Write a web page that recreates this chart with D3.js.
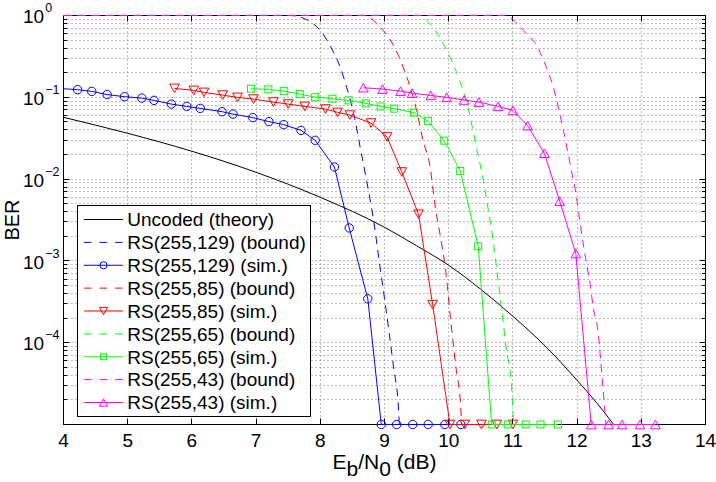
<!DOCTYPE html>
<html><head><meta charset="utf-8">
<script src="https://cdn.jsdelivr.net/npm/d3@7"></script>
<style>
body{margin:0;background:#fff}
svg{display:block}
text{font-family:"Liberation Sans",Arial,Helvetica,sans-serif;fill:#000}
</style>
</head><body>
<svg id="chart" width="716" height="482"></svg>
<script>
// ---------------- data ----------------
const uncodedX   = [4.0, 5.0, 6.0, 7.0, 8.0, 9.0, 9.5, 10.0, 10.5, 11.0, 11.5, 12.0, 12.3, 12.57];
const uncodedBER = [0.0569, 0.0363, 0.0219, 0.01211, 0.00599, 0.002578, 0.001531, 0.000884, 0.000449, 0.0002104, 9.16e-5, 3.47e-5, 1.86e-5, 1e-5];

const boundX129   = [4.0, 7.53, 7.79, 8.00, 8.15, 8.31, 8.41, 8.52, 8.62, 8.72, 8.83, 8.93, 9.01, 9.14, 9.22, 9.23];
const boundBER129 = [1, 1, 0.886, 0.656, 0.430, 0.234, 0.133, 0.0631, 0.0247, 0.00967, 0.00314, 0.000845, 0.000305, 5.08e-5, 1.5e-5, 1e-5];
const simX129   = [3.97, 4.22, 4.44, 4.68, 4.95, 5.22, 5.41, 5.68, 5.92, 6.13, 6.47, 6.64, 6.95, 7.20, 7.43, 7.70, 7.92, 8.22, 8.45, 8.74, 8.95, 9.19, 9.44, 9.68, 9.94, 10.19];
const simBER129 = [0.1277, 0.124, 0.118, 0.108, 0.1017, 0.0977, 0.0917, 0.0826, 0.0774, 0.0732, 0.0667, 0.0623, 0.0564, 0.0504, 0.0463, 0.0394, 0.0298, 0.01406, 0.00253, 0.000344, 1e-5, 1e-5, 1e-5, 1e-5, 1e-5, 1e-5];

const boundX85   = [4.0, 8.67, 8.83, 8.98, 9.14, 9.29, 9.40, 9.50, 9.60, 9.71, 9.79, 9.89, 9.97, 10.01, 10.11, 10.19, 10.20];
const boundBER85 = [1, 1, 0.869, 0.656, 0.430, 0.234, 0.133, 0.0692, 0.0298, 0.0141, 0.00456, 0.00163, 0.000581, 0.000274, 5.2e-5, 1.5e-5, 1e-5];
const simX85   = [5.73, 6.03, 6.19, 6.48, 6.71, 6.96, 7.27, 7.50, 7.76, 8.08, 8.27, 8.46, 8.79, 9.04, 9.27, 9.53, 9.75, 10.02, 10.25, 10.51, 10.75, 11.0];
const simBER85 = [0.1285, 0.1214, 0.1148, 0.1064, 0.0997, 0.0951, 0.0874, 0.0826, 0.0774, 0.0718, 0.0654, 0.0606, 0.0484, 0.0327, 0.01221, 0.00372, 0.000292, 1e-5, 1e-5, 1e-5, 1e-5, 1e-5];

const boundX65   = [4.0, 9.55, 9.71, 9.86, 10.02, 10.17, 10.30, 10.43, 10.54, 10.61, 10.69, 10.77, 10.82, 10.90, 10.98, 11.01];
const boundBER65 = [1, 1, 0.792, 0.543, 0.310, 0.161, 0.0759, 0.0247, 0.00967, 0.00456, 0.00179, 0.000581, 0.000274, 8.1e-5, 2.9e-5, 1e-5];
const simX65   = [6.92, 7.19, 7.43, 7.68, 7.92, 8.19, 8.44, 8.71, 8.94, 9.15, 9.46, 9.68, 9.93, 10.18, 10.46, 10.67, 10.92, 11.20, 11.43, 11.70];
const simBER65 = [0.1273, 0.1248, 0.1190, 0.1094, 0.1005, 0.0961, 0.0917, 0.0843, 0.0774, 0.0726, 0.0649, 0.0512, 0.0295, 0.01256, 0.00151, 1e-5, 1e-5, 1e-5, 1e-5, 1e-5];

const boundX43   = [4.0, 10.87, 10.95, 11.16, 11.37, 11.52, 11.63, 11.73, 11.83, 11.91, 11.99, 12.04, 12.12, 12.20, 12.25, 12.33, 12.40, 12.44, 12.45];
const boundBER43 = [1, 1, 0.953, 0.656, 0.430, 0.234, 0.133, 0.0631, 0.0271, 0.0128, 0.00604, 0.00314, 0.00123, 0.00053, 0.000274, 0.000129, 2.9e-5, 1.25e-5, 1e-5];
const simX43   = [8.67, 8.97, 9.25, 9.43, 9.72, 9.97, 10.24, 10.47, 10.77, 11.00, 11.23, 11.49, 11.73, 11.98, 12.22, 12.49, 12.70, 12.98, 13.22];
const simBER43 = [0.131, 0.126, 0.119, 0.1125, 0.1055, 0.0997, 0.0927, 0.0874, 0.0774, 0.0692, 0.0450, 0.0207, 0.00536, 0.00123, 1e-5, 1e-5, 1e-5, 1e-5, 1e-5];

const xTickValues = [4, 5, 6, 7, 8, 9, 10, 11, 12, 13, 14];
const yTickExponents = [0, -1, -2, -3, -4];
const legendLabels = ["Uncoded (theory)", "RS(255,129) (bound)", "RS(255,129) (sim.)",
  "RS(255,85) (bound)", "RS(255,85) (sim.)", "RS(255,65) (bound)", "RS(255,65) (sim.)",
  "RS(255,43) (bound)", "RS(255,43) (sim.)"];

// ---------------- drawing ----------------
const svg = d3.select("#chart");
const L = 63.5, R = 705.5, T = 15.5, B = 424.5;
const x = d3.scaleLinear().domain([4, 14]).range([L, R]);
const y = d3.scaleLog().domain([1e-5, 1]).range([B, T]);

const BLUE = "#0000ff", RED = "#ff0000", GREEN = "#00ff00", MAG = "#ff00ff";
const DASH = "8,6";

const series = [
  {xs: uncodedX, ys: uncodedBER, color: "#000", dash: null, marker: null, smooth: true},
  {xs: boundX129, ys: boundBER129, color: BLUE, dash: DASH, marker: null, smooth: true},
  {xs: simX129, ys: simBER129, color: BLUE, dash: null, marker: "circle"},
  {xs: boundX85, ys: boundBER85, color: RED, dash: DASH, marker: null, smooth: true},
  {xs: simX85, ys: simBER85, color: RED, dash: null, marker: "tridown"},
  {xs: boundX65, ys: boundBER65, color: GREEN, dash: DASH, marker: null, smooth: true},
  {xs: simX65, ys: simBER65, color: GREEN, dash: null, marker: "square"},
  {xs: boundX43, ys: boundBER43, color: MAG, dash: DASH, marker: null, smooth: true},
  {xs: simX43, ys: simBER43, color: MAG, dash: null, marker: "triup"}
];

svg.append("rect").attr("width", 716).attr("height", 482).attr("fill", "#fff");
svg.append("rect").attr("x", L).attr("y", T).attr("width", R - L).attr("height", B - T).attr("fill", "#fff");

svg.append("defs").append("clipPath").attr("id", "plotclip")
  .append("rect").attr("x", L - 0.5).attr("y", T - 1).attr("width", R - L + 1).attr("height", B - T + 2);

// grid
const grid = svg.append("g").attr("stroke", "#7a7a7a").attr("stroke-width", 1).attr("stroke-dasharray", "1,3");
xTickValues.filter(v => v > 4 && v < 14).forEach(v => {
  const px = Math.round(x(v) - 0.5) + 0.5;
  grid.append("line").attr("x1", px).attr("x2", px).attr("y1", T).attr("y2", B);
});
const yGridVals = [];
for (let k = -5; k <= -1; k++) for (let m = 1; m <= 9; m++) { const v = m * Math.pow(10, k); if (v > 1e-5) yGridVals.push(v); }
yGridVals.forEach(v => {
  const py = Math.round(y(v) - 0.5) + 0.5;
  grid.append("line").attr("x1", L).attr("x2", R).attr("y1", py).attr("y2", py);
});

// axes box & ticks
const ax = svg.append("g").attr("stroke", "#000").attr("stroke-width", 1).attr("fill", "none");
ax.append("rect").attr("x", L).attr("y", T).attr("width", R - L).attr("height", B - T);
xTickValues.forEach(v => {
  const px = Math.round(x(v) - 0.5) + 0.5;
  ax.append("line").attr("x1", px).attr("x2", px).attr("y1", B).attr("y2", B - 6);
  ax.append("line").attr("x1", px).attr("x2", px).attr("y1", T).attr("y2", T + 6);
});
yGridVals.concat([1]).forEach(v => {
  const major = Math.abs(Math.log10(v) - Math.round(Math.log10(v))) < 1e-9;
  const len = major ? 6 : 3.5;
  const py = Math.round(y(v) - 0.5) + 0.5;
  ax.append("line").attr("x1", L).attr("x2", L + len).attr("y1", py).attr("y2", py);
  ax.append("line").attr("x1", R).attr("x2", R - len).attr("y1", py).attr("y2", py);
});

// tick labels
const xl = svg.append("g").attr("font-size", 19).attr("text-anchor", "middle");
xTickValues.forEach(v => xl.append("text").attr("x", x(v)).attr("y", 447).text(v));
const yl = svg.append("g");
yTickExponents.forEach(e => {
  const py = y(Math.pow(10, e));
  const t = yl.append("text").attr("x", 23).attr("y", py + 7.7).attr("font-size", 19);
  t.append("tspan").text("10");
  t.append("tspan").attr("dy", -11).attr("dx", 1).attr("font-size", 12.5).text(e === 0 ? "0" : "\u2212" + (-e));
});

// axis titles
const xt = svg.append("text").attr("x", (L + R) / 2).attr("y", 468.5).attr("text-anchor", "middle").attr("font-size", 21);
xt.append("tspan").text("E");
xt.append("tspan").attr("dy", 7).text("b");
xt.append("tspan").attr("dy", -7).text("/N");
xt.append("tspan").attr("dy", 7).text("0");
xt.append("tspan").attr("dy", -7).text(" (dB)");
svg.append("text").attr("transform", `translate(18.5,${(T + B) / 2}) rotate(-90)`)
  .attr("text-anchor", "middle").attr("font-size", 20).text("BER");

// markers
function drawMarker(g, type, cx, cy, s) {
  if (type === "circle") {
    g.append("circle").attr("cx", cx).attr("cy", cy).attr("r", 4.2 * s);
  } else if (type === "square") {
    const h = 3.5 * s;
    g.append("rect").attr("x", cx - h).attr("y", cy - h).attr("width", 2 * h).attr("height", 2 * h);
  } else if (type === "tridown") {
    const w = 4.8 * s, h = 4.3 * s;
    g.append("path").attr("d", `M${cx - w},${cy - h}L${cx + w},${cy - h}L${cx},${cy + h}Z`);
  } else if (type === "triup") {
    const w = 4.8 * s, h = 4.3 * s;
    g.append("path").attr("d", `M${cx - w},${cy + h}L${cx + w},${cy + h}L${cx},${cy - h}Z`);
  }
}

// data lines
const dataG = svg.append("g");
series.forEach(s => {
  const pts = s.xs.map((v, i) => [v, s.ys[i]]);
  const line = d3.line().x(d => x(d[0])).y(d => y(d[1]))
    .curve(s.smooth ? d3.curveMonotoneX : d3.curveLinear);
  dataG.append("path").attr("d", line(pts)).attr("fill", "none")
    .attr("stroke", s.color).attr("stroke-width", 1)
    .attr("stroke-dasharray", s.dash)
    .attr("clip-path", "url(#plotclip)");
  if (s.marker) {
    const mg = dataG.append("g").attr("fill", "none").attr("stroke", s.color).attr("stroke-width", 1);
    pts.filter(d => d[0] >= 4 && d[0] <= 14).forEach(d => drawMarker(mg, s.marker, x(d[0]), y(d[1]), 1));
  }
});

// legend
const lg = svg.append("g");
lg.append("rect").attr("x", 77.5).attr("y", 205.5).attr("width", 233).attr("height", 211)
  .attr("fill", "#fff").attr("stroke", "#000").attr("stroke-width", 1);
legendLabels.forEach((lab, i) => {
  const s = series[i];
  const cy = 219.5 + i * 22.875;
  lg.append("line").attr("x1", 84).attr("x2", 123).attr("y1", cy).attr("y2", cy)
    .attr("stroke", s.color).attr("stroke-width", 1).attr("stroke-dasharray", s.dash ? "7.5,8" : null);
  if (s.marker) {
    const mg = lg.append("g").attr("fill", "none").attr("stroke", s.color).attr("stroke-width", 1);
    drawMarker(mg, s.marker, 103.5, cy, 0.85);
  }
  lg.append("text").attr("x", 127.3).attr("y", cy + 6.8).attr("font-size", 19).text(lab);
});
</script>
</body></html>
